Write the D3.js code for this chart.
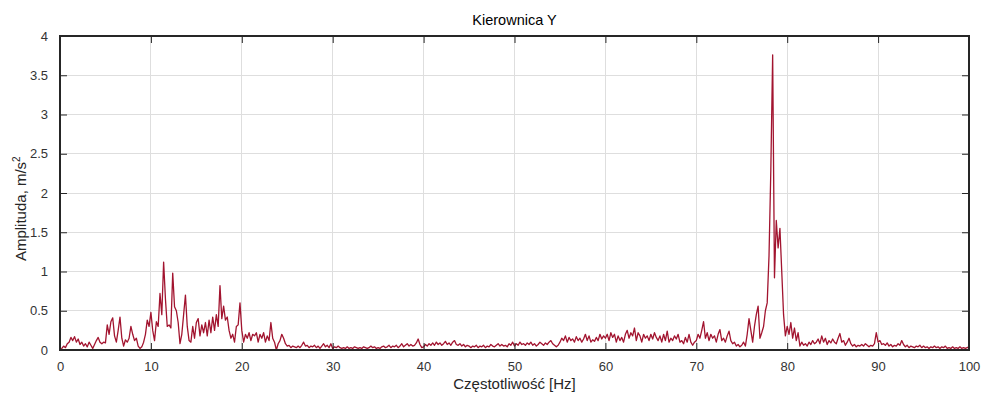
<!DOCTYPE html>
<html>
<head>
<meta charset="utf-8">
<script src="https://cdn.jsdelivr.net/npm/d3@7/dist/d3.min.js"></script>
<style>
html,body{margin:0;padding:0;background:#fff;}
svg{display:block;font-family:"Liberation Sans",Arial,Helvetica,sans-serif;}
</style>
</head>
<body>
<svg id="chart" width="984" height="396"></svg>
<script>
// Frequency step of the spectrum (Hz) and amplitude values (m/s^2)
const freqStep = 0.2;
const amp0_10 = [0.0,0.02,0.05,0.03,0.08,0.1,0.16,0.12,0.17,0.1,0.14,0.07,0.1,0.05,0.08,0.04,0.1,0.06,0.02,0.07,0.12,0.16,0.1,0.08,0.1,0.09,0.32,0.2,0.36,0.41,0.18,0.1,0.25,0.42,0.15,0.05,0.13,0.1,0.15,0.3,0.2,0.12,0.15,0.05,0.02,0.04,0.1,0.2,0.38,0.3];
const amp10_20 = [0.48,0.25,0.12,0.36,0.3,0.72,0.45,1.12,0.65,0.3,0.32,0.28,0.98,0.55,0.5,0.35,0.08,0.2,0.45,0.7,0.3,0.12,0.1,0.3,0.15,0.35,0.4,0.18,0.32,0.22,0.35,0.18,0.38,0.22,0.42,0.25,0.45,0.3,0.82,0.4,0.56,0.38,0.42,0.25,0.15,0.2,0.1,0.3,0.32,0.6];
const amp20_30 = [0.25,0.1,0.2,0.15,0.22,0.12,0.2,0.18,0.22,0.1,0.2,0.15,0.22,0.1,0.18,0.12,0.35,0.15,0.1,0.0,0.08,0.12,0.2,0.15,0.08,0.05,0.06,0.03,0.05,0.04,0.03,0.05,0.03,0.06,0.1,0.05,0.06,0.03,0.05,0.04,0.06,0.03,0.05,0.02,0.05,0.08,0.04,0.06,0.03,0.08];
const amp30_40 = [0.02,0.04,0.03,0.05,0.03,0.02,0.03,0.02,0.04,0.02,0.03,0.02,0.04,0.03,0.02,0.03,0.02,0.04,0.03,0.02,0.03,0.05,0.03,0.04,0.02,0.03,0.02,0.04,0.05,0.03,0.04,0.06,0.03,0.05,0.04,0.06,0.03,0.05,0.08,0.04,0.06,0.08,0.05,0.07,0.05,0.06,0.09,0.14,0.07,0.03];
const amp40_50 = [0.04,0.07,0.05,0.08,0.06,0.09,0.06,0.1,0.07,0.09,0.06,0.08,0.11,0.07,0.09,0.06,0.1,0.12,0.07,0.06,0.08,0.05,0.07,0.04,0.06,0.05,0.03,0.05,0.04,0.06,0.03,0.05,0.04,0.06,0.03,0.05,0.04,0.07,0.05,0.04,0.06,0.08,0.05,0.07,0.05,0.06,0.04,0.08,0.06,0.1];
const amp50_60 = [0.05,0.08,0.06,0.1,0.07,0.08,0.06,0.09,0.07,0.1,0.06,0.08,0.05,0.07,0.1,0.08,0.06,0.09,0.07,0.1,0.12,0.08,0.06,0.04,0.06,0.1,0.15,0.12,0.18,0.1,0.16,0.12,0.14,0.1,0.17,0.12,0.15,0.1,0.14,0.2,0.12,0.18,0.1,0.13,0.11,0.16,0.12,0.2,0.14,0.18];
const amp60_70 = [0.15,0.2,0.12,0.22,0.16,0.2,0.1,0.18,0.12,0.16,0.1,0.2,0.25,0.15,0.22,0.18,0.28,0.12,0.22,0.18,0.1,0.2,0.15,0.18,0.12,0.2,0.14,0.22,0.16,0.12,0.18,0.1,0.2,0.12,0.24,0.1,0.15,0.12,0.18,0.14,0.2,0.1,0.12,0.08,0.16,0.1,0.2,0.1,0.06,0.1];
const amp70_80 = [0.12,0.2,0.15,0.25,0.36,0.15,0.22,0.12,0.2,0.15,0.18,0.1,0.2,0.26,0.12,0.15,0.1,0.18,0.24,0.12,0.08,0.1,0.05,0.07,0.04,0.06,0.1,0.05,0.2,0.4,0.25,0.1,0.3,0.45,0.56,0.15,0.22,0.3,0.5,0.6,1.2,2.3,3.76,0.92,1.65,1.3,1.55,1.0,0.45,0.18];
const amp80_90 = [0.3,0.2,0.35,0.15,0.28,0.12,0.22,0.05,0.1,0.06,0.08,0.05,0.1,0.07,0.12,0.08,0.1,0.14,0.08,0.18,0.1,0.15,0.07,0.12,0.09,0.14,0.1,0.08,0.15,0.21,0.1,0.12,0.06,0.1,0.15,0.08,0.05,0.07,0.04,0.06,0.05,0.07,0.05,0.08,0.06,0.04,0.06,0.05,0.08,0.22];
const amp90_100 = [0.1,0.12,0.07,0.08,0.06,0.09,0.05,0.07,0.04,0.06,0.05,0.08,0.06,0.12,0.07,0.04,0.06,0.03,0.05,0.04,0.03,0.05,0.04,0.06,0.03,0.05,0.03,0.04,0.02,0.04,0.03,0.05,0.03,0.04,0.02,0.04,0.03,0.05,0.02,0.03,0.02,0.04,0.02,0.03,0.02,0.04,0.02,0.03,0.02,0.03,0.04];

const xTicks = [0,10,20,30,40,50,60,70,80,90,100];
const yTicks = [0,0.5,1,1.5,2,2.5,3,3.5,4];
const titleText = "Kierownica Y";
const xLabelText = "Częstotliwość [Hz]";

const amps = [].concat(amp0_10,amp10_20,amp20_30,amp30_40,amp40_50,amp50_60,amp60_70,amp70_80,amp80_90,amp90_100);
const data = amps.map((a,i)=>({f:+(i*freqStep).toFixed(2), a}));

const svg = d3.select("#chart");
const m = {left:60, right:15, top:36, bottom:46};
const W = 984, H = 396;
const iw = W - m.left - m.right, ih = H - m.top - m.bottom;
const x = d3.scaleLinear().domain([0,100]).range([m.left, m.left+iw]);
const y = d3.scaleLinear().domain([0,4]).range([m.top+ih, m.top]);
const axisColor = "#262626";
const tickLen = 7;

// grid
const g = svg.append("g");
g.selectAll("line.vg").data(xTicks).join("line")
  .attr("x1",d=>x(d)).attr("x2",d=>x(d)).attr("y1",m.top).attr("y2",m.top+ih)
  .attr("stroke","#dedede").attr("stroke-width",1).attr("shape-rendering","crispEdges");
g.selectAll("line.hg").data(yTicks).join("line")
  .attr("y1",d=>y(d)).attr("y2",d=>y(d)).attr("x1",m.left).attr("x2",m.left+iw)
  .attr("stroke","#dedede").attr("stroke-width",1).attr("shape-rendering","crispEdges");

// line
svg.append("path").datum(data)
  .attr("fill","none").attr("stroke","#A2142F").attr("stroke-width",1.3)
  .attr("stroke-linejoin","round")
  .attr("d", d3.line().x(d=>x(d.f)).y(d=>y(d.a)));

// axes (ticks inside, box on)
function styleAxis(sel){
  sel.select(".domain").remove();
  sel.selectAll(".tick line").attr("stroke",axisColor);
  sel.selectAll(".tick text").attr("fill","#333").attr("font-size",13)
    .attr("font-family","'Liberation Sans',Arial,sans-serif");
}
const xb = svg.append("g").attr("transform",`translate(0,${m.top+ih})`)
  .call(d3.axisBottom(x).tickValues(xTicks).tickSizeInner(-tickLen).tickSizeOuter(0).tickPadding(12).tickFormat(d3.format("d")));
styleAxis(xb);
const xt = svg.append("g").attr("transform",`translate(0,${m.top})`)
  .call(d3.axisTop(x).tickValues(xTicks).tickSizeInner(-tickLen).tickSizeOuter(0).tickFormat(""));
styleAxis(xt);
const yl = svg.append("g").attr("transform",`translate(${m.left},0)`)
  .call(d3.axisLeft(y).tickValues(yTicks).tickSizeInner(-tickLen).tickSizeOuter(0).tickPadding(12).tickFormat(d=>String(d)));
styleAxis(yl);
const yr = svg.append("g").attr("transform",`translate(${m.left+iw},0)`)
  .call(d3.axisRight(y).tickValues(yTicks).tickSizeInner(-tickLen).tickSizeOuter(0).tickFormat(""));
styleAxis(yr);

// box
svg.append("rect").attr("x",m.left).attr("y",m.top).attr("width",iw).attr("height",ih)
  .attr("fill","none").attr("stroke",axisColor).attr("stroke-width",1.2).attr("shape-rendering","crispEdges");

// title and labels
svg.append("text").attr("x",x(50)).attr("y",25).attr("text-anchor","middle")
  .attr("font-size",14.5).attr("fill","#000").text(titleText);
svg.append("text").attr("x",x(50)).attr("y",389).attr("text-anchor","middle")
  .attr("font-size",15).attr("fill",axisColor).text(xLabelText);
const yLab = svg.append("text").attr("transform",`translate(26,${y(1.8)}) rotate(-90)`)
  .attr("text-anchor","middle").attr("font-size",15).attr("fill",axisColor);
yLab.append("tspan").text("Amplituda, m/s");
yLab.append("tspan").attr("dy",-6).attr("font-size",10).text("2");
</script>
</body>
</html>
